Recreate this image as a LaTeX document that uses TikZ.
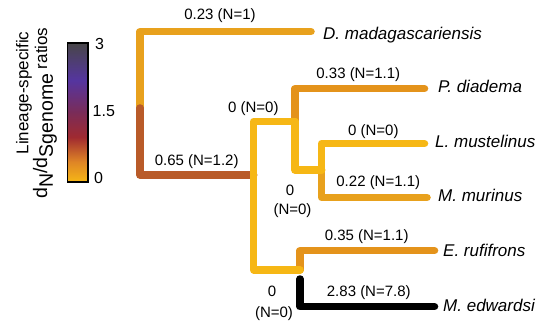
\documentclass[tikz,border=0pt]{standalone}
\usepackage{fontspec}
\setmainfont{Liberation Sans}
\definecolor{cA}{HTML}{E8A11D}
\definecolor{cB}{HTML}{E4931B}
\definecolor{cY}{HTML}{F6B715}
\definecolor{cBr}{HTML}{B95B29}
\definecolor{g0}{HTML}{F6B716}
\definecolor{g1}{HTML}{DE8426}
\definecolor{g2}{HTML}{A02A30}
\definecolor{g3}{HTML}{7A2C58}
\definecolor{g4}{HTML}{5535A0}
\definecolor{g5}{HTML}{484648}
\begin{document}
\begin{tikzpicture}[x=1pt,y=-1pt,
  br/.style={line width=7.5pt, line cap=round, line join=round},
  lab/.style={font=\fontsize{15}{18}\selectfont, inner sep=0pt},
  sp/.style={font=\fontsize{17}{20}\selectfont\itshape, anchor=base west, inner sep=0pt},
  tick/.style={font=\fontsize{16}{18}\selectfont, anchor=west, inner sep=0pt},
  ttl/.style={font=\fontsize{17}{20}\selectfont, rotate=90, inner sep=0pt}]
\useasboundingbox (0,0) rectangle (537,328);

% internal nodes
\coordinate (root) at (140,108);
\coordinate (A) at (253.7,175);
\coordinate (B) at (295,121.7);
\coordinate (C) at (321.7,170);
\coordinate (D) at (300,270);
\coordinate (Dlow) at (300,279);
% tips
\coordinate (tDmad) at (311,31.7);
\coordinate (tPdia) at (424.5,88.7);
\coordinate (tLmus) at (424.5,143.7);
\coordinate (tMmur) at (427,197.5);
\coordinate (tEruf) at (434.5,250.7);
\coordinate (tMedw) at (434.5,306.7);

% branches
\draw[br,cA] (root) |- (tDmad);
\draw[br,cBr] (root) |- (A);
\draw[br,cB] (B) |- (tPdia);
\draw[br,cA] (C) |- (tMmur);
\draw[br,cB] (D) |- (tEruf);
\draw[br,cY] (C) |- (tLmus);
\draw[br,cY] (B) |- (C);
\draw[br,cY] (A) |- (B);
\draw[br,cY] (A) |- (D);
\draw[br,black] (Dlow) |- (tMedw);

% species
\node[sp] (nDmad) at (323,39.5) {D. madagascariensis};
\node[sp] (nPdia) at (438,93) {P. diadema};
\node[sp] (nLmus) at (435,148) {L. mustelinus};
\node[sp] (nMmur) at (438,201.5) {M. murinus};
\node[sp] (nEruf) at (443,257) {E. rufifrons};
\node[sp] (nMedw) at (443,311.5) {M. edwardsi};

% branch labels
\node[lab] (l1) at (220,16) {0.23 (N=1)};
\node[lab] (l2) at (196.7,161.7) {0.65 (N=1.2)};
\node[lab] (l3) at (253.3,108.3) {0 (N=0)};
\node[lab] (l4) at (358.3,75) {0.33 (N=1.1)};
\node[lab] (l5) at (373.3,131.7) {0 (N=0)};
\node[lab] (l6) at (378.3,182.5) {0.22 (N=1.1)};
\node[lab] (l7a) at (290,190) {0};
\node[lab] (l7b) at (292.5,210.8) {(N=0)};
\node[lab] (l8) at (366.7,236.7) {0.35 (N=1.1)};
\node[lab] (l9a) at (272,291.7) {0};
\node[lab] (l9b) at (274,314) {(N=0)};
\node[lab] (l10) at (368.8,292.5) {2.83 (N=7.8)};

% colour bar
\shade[bottom color=g0, top color=g1] (67.5,182) rectangle (88,161.2);
\shade[bottom color=g1, top color=g2] (67.5,161.5) rectangle (88,137.2);
\shade[bottom color=g2, top color=g3] (67.5,137.5) rectangle (88,112.2);
\shade[bottom color=g3, top color=g4] (67.5,112.5) rectangle (88,80.2);
\shade[bottom color=g4, top color=g5] (67.5,80.5) rectangle (88,43);
\node[draw=black, line width=1.5pt, minimum width=20.5pt, minimum height=139pt, inner sep=0pt] (bar) at (77.75,112.5) {};
\node[tick] (t3) at (95,44) {3};
\node[tick] (t15) at (92.5,111.5) {1.5};
\node[tick] (t0) at (94,177.5) {0};

% title
\node[ttl] (ttl1) at (24,93) {Lineage-specific};
\node[ttl] (ttl2) at (45,113) {\fontsize{19.5}{22}\selectfont d\raisebox{-0.3em}{N}/d\raisebox{-0.3em}{Sgenome}\fontsize{17}{20}\selectfont\ ratios};
\end{tikzpicture}
\end{document}
